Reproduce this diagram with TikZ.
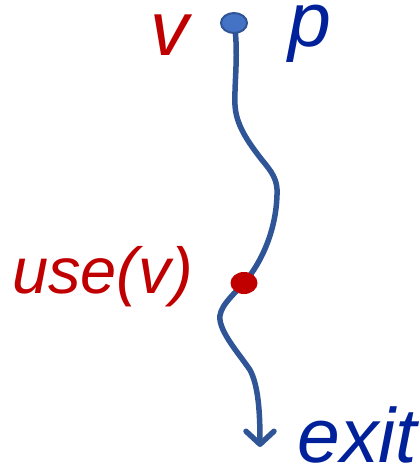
\documentclass[tikz,border=0pt]{standalone}
\usepackage{fontspec}
\setmainfont{Liberation Sans}
\usetikzlibrary{arrows.meta,backgrounds,shapes.geometric}
\definecolor{pathblue}{RGB}{47,85,151}
\definecolor{dotblue}{RGB}{68,114,196}
\definecolor{labred}{RGB}{192,0,0}
\definecolor{labblue}{RGB}{0,33,153}
\begin{document}
\begin{tikzpicture}[x=1pt,y=-1pt,
  lbl/.style={inner sep=0pt,anchor=base west,font=\fontsize{77}{80}\selectfont\itshape,
    text height=0.53em,text depth=0pt},
  redlbl/.style={lbl,text=labred},
  bluelbl/.style={lbl,text=labblue},
  flow/.style={draw=pathblue,line width=5.5pt,line cap=round,
    -{Straight Barb[length=13pt,width=28pt,round]}},
  startdot/.style={ellipse,draw=pathblue,line width=2pt,fill=dotblue,
    minimum width=26pt,minimum height=20pt,inner sep=0pt},
  usedot/.style={ellipse,fill=labred,minimum width=27pt,minimum height=22pt,inner sep=0pt}]
\useasboundingbox (0,0) rectangle (419,467);
\node[startdot] (top) at (234,23) {};
\node[usedot] (use) at (244,283) {};
\coordinate (exitpt) at (260,447);
\node[redlbl] (vlab) at (150,55) {v};
\node[bluelbl,text depth=0.2em] (plab) at (288,46) {p};
\node[redlbl,font=\fontsize{65}{70}\selectfont\itshape,text height=0.75em,text depth=0.2em] (uselab) at (12,293) {use(v)};
\node[bluelbl,text height=0.73em] (exitlab) at (297,462) {exit};
\begin{pgfonlayer}{background}
\draw[flow] (top.center)
  .. controls (239,50) and (234,85) .. (235,105)
  .. controls (236,125) and (248,142) .. (262,160)
  .. controls (272,172) and (278,180) .. (277,195)
  .. controls (276,230) and (262,262) .. (use.center)
  .. controls (232,296) and (218,308) .. (220,320)
  .. controls (222,335) and (240,355) .. (250,370)
  .. controls (258,385) and (260,410) .. (exitpt);
\end{pgfonlayer}
\end{tikzpicture}
\end{document}
